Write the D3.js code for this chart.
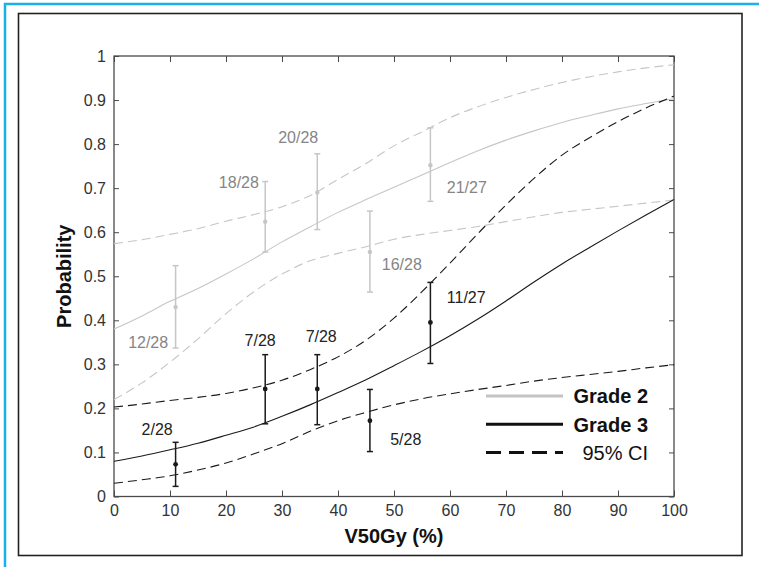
<!DOCTYPE html>
<html>
<head>
<meta charset="utf-8">
<script src="https://cdn.jsdelivr.net/npm/d3@7"></script>
<style>
body { margin: 0; background: #fff; }
svg { display: block; font-family: "Liberation Sans", Arial, Helvetica, sans-serif; }
</style>
</head>
<body>
<div class="chart"></div>
<script>
var curveX = [0, 5, 10, 15, 20, 25, 30, 35, 40, 45, 50, 55, 60, 65, 70, 75, 80, 85, 90, 95, 100];

// grade 2 fit and 95% CI
var g2Fit   = [0.380, 0.410, 0.443, 0.472, 0.505, 0.540, 0.578, 0.612, 0.645, 0.674, 0.702, 0.730, 0.758, 0.785, 0.809, 0.830, 0.849, 0.865, 0.880, 0.892, 0.903];
var g2Upper = [0.574, 0.583, 0.595, 0.608, 0.625, 0.640, 0.658, 0.683, 0.720, 0.756, 0.796, 0.828, 0.860, 0.885, 0.906, 0.924, 0.940, 0.953, 0.964, 0.973, 0.980];
var g2Lower = [0.220, 0.258, 0.305, 0.358, 0.415, 0.465, 0.505, 0.535, 0.552, 0.567, 0.584, 0.595, 0.604, 0.613, 0.624, 0.635, 0.645, 0.652, 0.659, 0.666, 0.673];

// grade 3 fit and 95% CI
var g3Fit   = [0.080, 0.092, 0.106, 0.121, 0.139, 0.158, 0.182, 0.208, 0.236, 0.265, 0.297, 0.330, 0.365, 0.403, 0.444, 0.487, 0.528, 0.566, 0.603, 0.639, 0.674];
var g3Upper = [0.203, 0.210, 0.218, 0.225, 0.234, 0.247, 0.264, 0.288, 0.317, 0.355, 0.405, 0.465, 0.530, 0.597, 0.662, 0.722, 0.775, 0.815, 0.851, 0.882, 0.909];
var g3Lower = [0.030, 0.038, 0.047, 0.060, 0.076, 0.097, 0.120, 0.148, 0.172, 0.191, 0.208, 0.222, 0.233, 0.243, 0.252, 0.262, 0.270, 0.277, 0.284, 0.292, 0.299];

// observed groups
var groupX = [11, 27, 36.3, 45.7, 56.5];
var g2Obs  = [0.430, 0.624, 0.690, 0.555, 0.752];
var g2Lo   = [0.337, 0.555, 0.606, 0.464, 0.670];
var g2Hi   = [0.524, 0.715, 0.778, 0.648, 0.837];
var g3Obs  = [0.073, 0.244, 0.244, 0.172, 0.395];
var g3Lo   = [0.023, 0.165, 0.163, 0.102, 0.302];
var g3Hi   = [0.123, 0.322, 0.322, 0.243, 0.486];

// count labels and where they sit (data units)
var g2Labels = ['12/28', '18/28', '20/28', '16/28', '21/27'];
var g2LabelX = [6.1, 22.3, 32.9, 51.4, 63.0];
var g2LabelY = [0.349, 0.712, 0.815, 0.528, 0.702];
var g3Labels = ['2/28', '7/28', '7/28', '5/28', '11/27'];
var g3LabelX = [7.7, 26.1, 37.0, 52.1, 62.9];
var g3LabelY = [0.152, 0.354, 0.363, 0.129, 0.451];

var xTicks = [0, 10, 20, 30, 40, 50, 60, 70, 80, 90, 100];
var yTicks = [0, 0.1, 0.2, 0.3, 0.4, 0.5, 0.6, 0.7, 0.8, 0.9, 1];

var width = 759, height = 567;
var plot = {left: 114, right: 674, top: 56, bottom: 496.5};
var grey = '#c6c6c6', greyText = '#858585', dark = '#1a1a1a';

var xScale = d3.scaleLinear().domain([0, 100]).range([plot.left, plot.right]);
var yScale = d3.scaleLinear().domain([0, 1]).range([plot.bottom, plot.top]);

var svg = d3.select('.chart').append('svg')
    .attr('width', width)
    .attr('height', height);

// page frames
svg.append('rect')
    .attr('x', 5).attr('y', 4)
    .attr('width', 780).attr('height', 600)
    .attr('fill', 'none')
    .attr('stroke', '#19b1ea')
    .attr('stroke-width', 2.5);

svg.append('rect')
    .attr('x', 18.5).attr('y', 13.5)
    .attr('width', 723.5).attr('height', 542)
    .attr('fill', 'none')
    .attr('stroke', '#222')
    .attr('stroke-width', 1.6);

function styleAxis(g) {
    g.select('.domain').remove();
    g.selectAll('.tick line').attr('stroke', '#4a4a4a');
    g.selectAll('.tick text')
        .attr('fill', '#333')
        .style('font-size', '16px')
        .style('font-family', '"Liberation Sans", Arial, sans-serif');
}

svg.append('g')
    .attr('transform', `translate(0,${plot.bottom})`)
    .call(d3.axisBottom(xScale).tickValues(xTicks).tickSize(-6).tickPadding(8))
    .call(styleAxis);

svg.append('g')
    .attr('transform', `translate(0,${plot.top})`)
    .call(d3.axisTop(xScale).tickValues(xTicks).tickSize(-6).tickFormat(''))
    .call(styleAxis);

svg.append('g')
    .attr('transform', `translate(${plot.left},0)`)
    .call(d3.axisLeft(yScale).tickValues(yTicks).tickSize(-5).tickPadding(8).tickFormat(d3.format('')))
    .call(styleAxis);

svg.append('g')
    .attr('transform', `translate(${plot.right},0)`)
    .call(d3.axisRight(yScale).tickValues(yTicks).tickSize(-5).tickFormat(''))
    .call(styleAxis);

svg.append('rect')
    .attr('x', plot.left).attr('y', plot.top)
    .attr('width', plot.right - plot.left)
    .attr('height', plot.bottom - plot.top)
    .attr('fill', 'none')
    .attr('stroke', '#4a4a4a')
    .attr('stroke-width', 1.3);

// curves
var line = d3.line()
    .x((d, i) => xScale(curveX[i]))
    .y(d => yScale(d))
    .curve(d3.curveMonotoneX);

var curves = [
    {values: g2Upper, color: grey, dash: '9,5'},
    {values: g2Lower, color: grey, dash: '9,5'},
    {values: g2Fit, color: grey, dash: null},
    {values: g3Upper, color: dark, dash: '9,5'},
    {values: g3Lower, color: dark, dash: '9,5'},
    {values: g3Fit, color: dark, dash: null}
];

svg.append('g').selectAll('path')
    .data(curves)
    .enter().append('path')
    .attr('d', d => line(d.values))
    .attr('fill', 'none')
    .attr('stroke', d => d.color)
    .attr('stroke-width', 1.1)
    .attr('stroke-dasharray', d => d.dash);

// error bars
function drawErrorBars(obs, lo, hi, color, r) {
    var g = svg.append('g');
    var rows = groupX.map((x, i) => ({x: x, p: obs[i], lo: lo[i], hi: hi[i]}));
    var bar = g.selectAll('g').data(rows).enter().append('g');
    bar.append('line')
        .attr('x1', d => xScale(d.x)).attr('x2', d => xScale(d.x))
        .attr('y1', d => yScale(d.lo)).attr('y2', d => yScale(d.hi));
    bar.append('line')
        .attr('x1', d => xScale(d.x) - 3).attr('x2', d => xScale(d.x) + 3)
        .attr('y1', d => yScale(d.lo)).attr('y2', d => yScale(d.lo));
    bar.append('line')
        .attr('x1', d => xScale(d.x) - 3).attr('x2', d => xScale(d.x) + 3)
        .attr('y1', d => yScale(d.hi)).attr('y2', d => yScale(d.hi));
    bar.selectAll('line').attr('stroke', color).attr('stroke-width', 1.5);
    bar.append('circle')
        .attr('cx', d => xScale(d.x))
        .attr('cy', d => yScale(d.p))
        .attr('r', r)
        .attr('fill', color);
}

drawErrorBars(g2Obs, g2Lo, g2Hi, grey, 2.2);
drawErrorBars(g3Obs, g3Lo, g3Hi, dark, 2.4);

function drawLabels(labels, lx, ly, color) {
    svg.append('g').selectAll('text')
        .data(labels)
        .enter().append('text')
        .attr('x', (d, i) => xScale(lx[i]))
        .attr('y', (d, i) => yScale(ly[i]))
        .attr('dy', '0.35em')
        .attr('text-anchor', 'middle')
        .attr('fill', color)
        .style('font-size', '16px')
        .text(d => d);
}

drawLabels(g2Labels, g2LabelX, g2LabelY, greyText);
drawLabels(g3Labels, g3LabelX, g3LabelY, '#222');

// axis titles
svg.append('text')
    .attr('x', (plot.left + plot.right) / 2)
    .attr('y', 543)
    .attr('text-anchor', 'middle')
    .attr('fill', '#111')
    .style('font-size', '20px')
    .style('font-weight', 'bold')
    .text('V50Gy (%)');

svg.append('text')
    .attr('transform', `translate(71,${(plot.top + plot.bottom) / 2}) rotate(-90)`)
    .attr('text-anchor', 'middle')
    .attr('fill', '#111')
    .style('font-size', '20px')
    .style('font-weight', 'bold')
    .text('Probability');

// legend
var legend = [
    {name: 'Grade 2', color: '#c4c4c4', dash: null, bold: true},
    {name: 'Grade 3', color: '#111', dash: null, bold: true},
    {name: '95% CI', color: '#111', dash: '15,8', bold: false}
];

var lg = svg.append('g').attr('transform', 'translate(486,396)');
var item = lg.selectAll('g').data(legend).enter().append('g')
    .attr('transform', (d, i) => `translate(0,${i * 28.3})`);
item.append('line')
    .attr('x1', 0).attr('x2', 77)
    .attr('stroke', d => d.color)
    .attr('stroke-width', 3)
    .attr('stroke-dasharray', d => d.dash);
item.append('text')
    .attr('x', 162)
    .attr('dy', '0.36em')
    .attr('text-anchor', 'end')
    .attr('fill', '#111')
    .style('font-size', '20px')
    .style('font-weight', d => d.bold ? 'bold' : 'normal')
    .text(d => d.name);
</script>
</body>
</html>
